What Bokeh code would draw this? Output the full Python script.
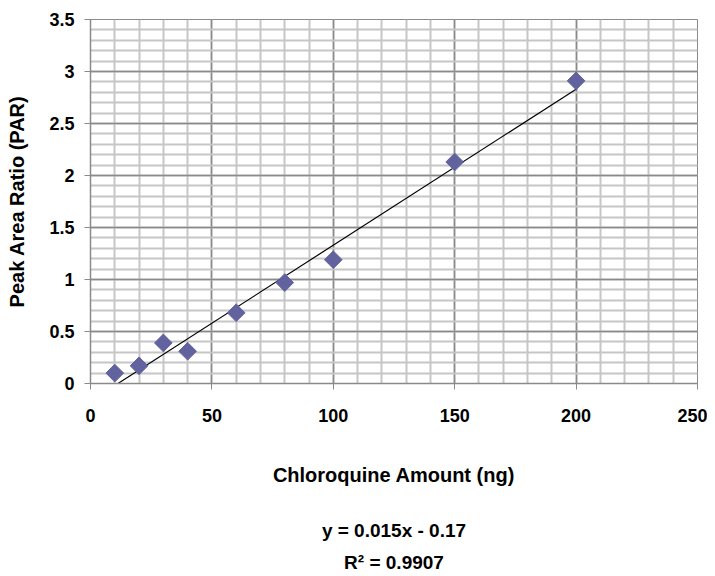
import math
from bokeh.plotting import figure
from bokeh.models import Range1d, SingleIntervalTicker, FixedTicker, LinearAxis
from bokeh.embed import file_html
from bokeh.resources import INLINE

# ---- data ----
amount_ng = [10, 20, 30, 40, 60, 80, 100, 150, 200]
par = [0.10, 0.17, 0.39, 0.31, 0.68, 0.97, 1.19, 2.13, 2.91]
slope = 0.015
intercept = -0.17
trend_x = [10, 200]
trend_y = [slope * x + intercept for x in trend_x]
x_tick_values = [0, 50, 100, 150, 200, 250]
y_tick_values = [0, 0.5, 1, 1.5, 2, 2.5, 3, 3.5]
y_tick_labels = ["0", "0.5", "1", "1.5", "2", "2.5", "3", "3.5"]
x_title = "Chloroquine Amount (ng)"
y_title = "Peak Area Ratio (PAR)"
eq_text = "y = 0.015x - 0.17"
r2_text = "R\u00b2 = 0.9907"

FONT = "Liberation Sans"
GRID_MAJOR = "#8a8a8a"
GRID_MINOR = "#c6c6c6"

p = figure(width=707, height=575, output_backend="svg", toolbar_location=None,
           x_range=Range1d(0, 250), y_range=Range1d(0, 3.5),
           min_border_left=90, min_border_right=10, min_border_top=19, min_border_bottom=0)
p.outline_line_color = GRID_MAJOR
p.background_fill_color = "white"

p.xaxis.ticker = SingleIntervalTicker(interval=50, num_minor_ticks=5)
p.yaxis.ticker = SingleIntervalTicker(interval=0.5, num_minor_ticks=5)
p.yaxis.major_label_overrides = {v: l for v, l in zip(y_tick_values, y_tick_labels)}

p.xgrid.grid_line_color = GRID_MAJOR
p.ygrid.grid_line_color = GRID_MAJOR
p.xgrid.minor_grid_line_color = GRID_MINOR
p.ygrid.minor_grid_line_color = GRID_MINOR
p.xgrid.minor_grid_line_width = 2
p.ygrid.minor_grid_line_width = 2
p.xgrid.grid_line_width = 1.5
p.ygrid.grid_line_width = 1.5
p.xgrid.level = "underlay"
p.ygrid.level = "underlay"

for ax in (p.xaxis, p.yaxis):
    ax.axis_line_color = GRID_MAJOR
    ax.axis_line_width = 1.5
    ax.major_tick_line_color = GRID_MAJOR
    ax.major_tick_in = 0
    ax.major_tick_out = 6
    ax.minor_tick_in = 0
    ax.minor_tick_out = 0
    ax.major_label_text_font = FONT
    ax.major_label_text_font_style = "bold"
    ax.major_label_text_font_size = "18px"
    ax.major_label_text_color = "black"
    ax.axis_label_text_font = FONT
    ax.axis_label_text_font_style = "bold"
    ax.axis_label_text_font_size = "20px"
    ax.axis_label_text_color = "black"

p.xaxis.axis_label = x_title
p.yaxis.axis_label = y_title
p.xaxis.major_label_standoff = 19
p.xaxis.axis_label_standoff = 39
p.yaxis.major_label_standoff = 10
p.yaxis.axis_label_standoff = 18

p.line(trend_x, trend_y, line_color="black", line_width=1.2)
p.scatter(amount_ng, par, marker="square", size=12.5, angle=math.pi / 4,
          fill_color="#62629e", line_color="#62629e")

# trendline equation lines, drawn as labels of tick-less axes below the x axis
for txt, gap in ((eq_text, 31), (r2_text, 8)):
    eq_axis = LinearAxis(ticker=FixedTicker(ticks=[]), axis_label=txt,
                         axis_line_color=None, major_tick_line_color=None,
                         minor_tick_line_color=None, major_tick_out=0, major_tick_in=0,
                         minor_tick_out=0, minor_tick_in=0, major_label_standoff=0,
                         axis_label_standoff=gap, axis_label_text_font=FONT,
                         axis_label_text_font_style="bold",
                         axis_label_text_font_size="19px",
                         axis_label_text_color="black")
    p.add_layout(eq_axis, "below")

open("out.html", "w").write(file_html(p, INLINE))
